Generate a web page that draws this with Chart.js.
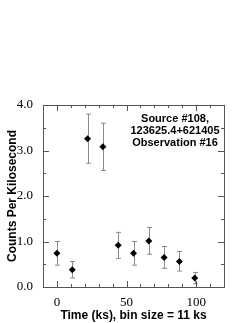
<!DOCTYPE html>
<html>
<head>
<meta charset="utf-8">
<script src="https://cdn.jsdelivr.net/npm/chart.js@4.4.0/dist/chart.umd.min.js"></script>
<style>
  html, body { margin: 0; padding: 0; background: #fff; }
  #wrap { width: 249px; height: 323px; }
</style>
</head>
<body>
<div id="wrap"><canvas id="lc"></canvas></div>
<script>
// light curve, one bin every 11 ks
var times = [0, 11, 22, 33, 44, 55, 66, 77, 88, 99];
var rates = [0.74, 0.38, 3.26, 3.08, 0.92, 0.74, 1.01, 0.65, 0.56, 0.20];
var upper = [1.00, 0.56, 3.80, 3.60, 1.20, 1.00, 1.31, 0.89, 0.78, 0.32];
var lower = [0.48, 0.20, 2.72, 2.56, 0.63, 0.48, 0.72, 0.41, 0.35, 0.07];
var xTicks = [0, 50, 100];
var yTicks = [0, 1, 2, 3, 4];
var labelLines = ['Source #108,', '123625.4+621405', 'Observation #16'];

var points = [];
for (let i = 0; i < times.length; i++) {
    points.push({ x: times[i], y: rates[i] });
}

const whiteBg = {
    id: 'whiteBg',
    beforeDraw(chart) {
        const c = chart.ctx;
        c.save();
        c.fillStyle = '#fff';
        c.fillRect(0, 0, chart.width, chart.height);
        c.restore();
    }
};

const errorBars = {
    id: 'errorBars',
    beforeDatasetsDraw(chart) {
        const c = chart.ctx;
        const xs = chart.scales.x, ys = chart.scales.y;
        c.save();
        c.strokeStyle = '#8a8a8a';
        c.lineWidth = 1;
        for (let i = 0; i < times.length; i++) {
            const px = Math.round(xs.getPixelForValue(times[i])) + 0.5;
            const top = ys.getPixelForValue(upper[i]);
            const bot = ys.getPixelForValue(lower[i]);
            c.beginPath();
            c.moveTo(px, top); c.lineTo(px, bot);
            c.moveTo(px - 2.5, top); c.lineTo(px + 2.5, top);
            c.moveTo(px - 2.5, bot); c.lineTo(px + 2.5, bot);
            c.stroke();
        }
        c.restore();
    }
};

const frame = {
    id: 'frame',
    afterDraw(chart) {
        const c = chart.ctx;
        const a = chart.chartArea;
        const xs = chart.scales.x, ys = chart.scales.y;
        c.save();
        c.strokeStyle = '#555';
        c.lineWidth = 1;
        c.strokeRect(Math.round(a.left) + 0.5, Math.round(a.top) + 0.5,
            Math.round(a.right - a.left), Math.round(a.bottom - a.top));
        c.beginPath();
        for (let v = -10; v <= 120; v += 10) {
            const px = Math.round(xs.getPixelForValue(v)) + 0.5;
            const len = (v % 50 === 0) ? 6 : 3;
            c.moveTo(px, a.bottom); c.lineTo(px, a.bottom - len);
            c.moveTo(px, a.top); c.lineTo(px, a.top + len);
        }
        for (let v = 0; v <= 4; v += 0.5) {
            const py = Math.round(ys.getPixelForValue(v)) + 0.5;
            const len = (v % 1 === 0) ? 6 : 3;
            c.moveTo(a.left, py); c.lineTo(a.left + len, py);
            c.moveTo(a.right, py); c.lineTo(a.right - len, py);
        }
        c.stroke();

        // source label in the upper right corner
        c.fillStyle = '#000';
        c.font = 'bold 11px "Liberation Sans", Arial, sans-serif';
        c.textAlign = 'center';
        c.textBaseline = 'middle';
        const ly = [119, 131, 143];
        for (let i = 0; i < labelLines.length; i++) {
            c.fillText(labelLines[i], 175, ly[i]);
        }
        c.restore();
    }
};

const tickFont = { family: '"Liberation Serif", "Times New Roman", serif', size: 13 };
const titleFont = { family: '"Liberation Sans", Arial, sans-serif', size: 12, weight: 'bold' };

new Chart(document.getElementById('lc'), {
    type: 'scatter',
    data: {
        datasets: [{
            label: 'rate',
            data: points,
            pointStyle: 'rectRot',
            radius: 3.5,
            hoverRadius: 3.5,
            backgroundColor: '#000',
            borderColor: '#000',
            borderWidth: 0
        }]
    },
    options: {
        responsive: true,
        maintainAspectRatio: false,
        animation: false,
        events: [],
        layout: { padding: { top: 105, right: 25, left: 0, bottom: 0 } },
        plugins: { legend: { display: false }, tooltip: { enabled: false } },
        scales: {
            x: {
                type: 'linear',
                min: -10,
                max: 120,
                grid: { display: false },
                border: { display: false },
                afterBuildTicks: s => { s.ticks = xTicks.map(v => ({ value: v })); },
                ticks: {
                    autoSkip: false,
                    color: '#000',
                    font: tickFont,
                    padding: 0,
                    maxRotation: 0,
                    callback: v => String(v)
                },
                title: {
                    display: true,
                    text: 'Time (ks), bin size = 11 ks',
                    color: '#000',
                    font: titleFont,
                    padding: { top: 0, bottom: 0 }
                },
                afterFit: s => { s.height = 36; }
            },
            y: {
                min: 0,
                max: 4,
                grid: { display: false },
                border: { display: false },
                afterBuildTicks: s => { s.ticks = yTicks.map(v => ({ value: v })); },
                ticks: {
                    autoSkip: false,
                    color: '#000',
                    font: tickFont,
                    padding: 2,
                    callback: v => v.toFixed(1)
                },
                title: {
                    display: true,
                    text: 'Counts Per Kilosecond',
                    color: '#000',
                    font: titleFont,
                    padding: { top: 5, bottom: 0 }
                },
                afterFit: s => { s.width = 43; }
            }
        }
    },
    plugins: [whiteBg, errorBars, frame]
});
</script>
</body>
</html>
